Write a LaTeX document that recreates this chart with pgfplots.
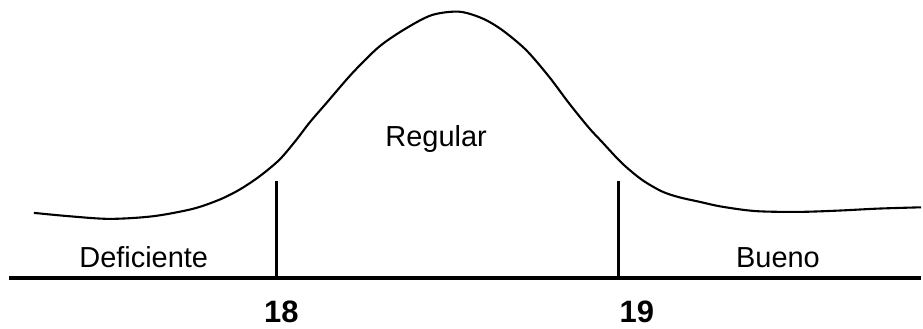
\documentclass[border=0pt]{standalone}
\usepackage{pgfplots}
\pgfplotsset{compat=1.18}
\usepackage{fontspec}
\setmainfont{Liberation Sans}
\begin{document}
\begin{tikzpicture}
\begin{axis}[
  x=1pt, y=1pt,
  xmin=0, xmax=923, ymin=0, ymax=329,
  y dir=reverse,
  hide axis,
  clip=false,
  anchor=origin, at={(0,0)},
]
\path (axis cs:0,0) rectangle (axis cs:923,329);
% curve
\addplot[black, line width=2.1pt, smooth, tension=0.5] coordinates {
(34,213.3)(70,216.7)(110,219.3)(153,216.7)(193,209.3)(220,200)(240,190)(260,176.7)(280,160)(297,140)(310,123)(327,103.3)(353,73.3)(380,46.7)(407,28.3)(433,15)(460,11.7)(483,18.3)(503,30)(527,50)(550,76.7)(570,103.3)(590,128)(603,142)(623,163.3)(643,180)(663,191.7)(680,197.5)(700,202)(723,207)(757,211.5)(800,212.3)(840,211)(880,209)(923,207.7)
};
% base line
\addplot[black, line width=3.6pt] coordinates {(9,278.5)(923,278.5)};
% dividers
\addplot[black, line width=3pt] coordinates {(277.5,181)(277.5,278)};
\addplot[black, line width=3pt] coordinates {(620,181)(620,278)};
% labels
\node[anchor=base, inner sep=0pt, font=\fontsize{29}{34}\selectfont] at (axis cs:144,268) {Deficiente};
\node[anchor=base, inner sep=0pt, font=\fontsize{29}{34}\selectfont] at (axis cs:437,147) {Regular};
\node[anchor=base, inner sep=0pt, font=\fontsize{29}{34}\selectfont] at (axis cs:779.5,268) {Bueno};
\node[anchor=base, inner sep=0pt, font=\fontsize{31}{36}\selectfont\bfseries] at (axis cs:282,323) {18};
\node[anchor=base, inner sep=0pt, font=\fontsize{31}{36}\selectfont\bfseries] at (axis cs:638,323) {19};
\end{axis}
\end{tikzpicture}
\end{document}
